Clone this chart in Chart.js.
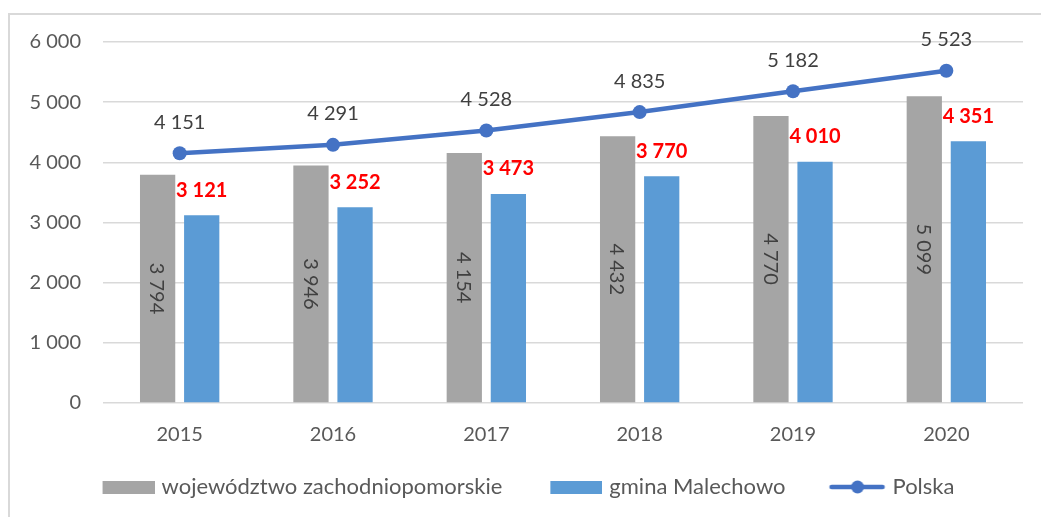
<!DOCTYPE html>
<html>
<head>
<meta charset="utf-8">
<script src="https://cdn.jsdelivr.net/npm/chart.js@4.4.0/dist/chart.umd.min.js"></script>
<style>
  html, body { margin: 0; padding: 0; background: #fff; overflow: hidden; }
  #frame { position: absolute; left: 8px; top: 13px; width: 1100px; height: 600px;
           border-left: 2px solid #d9d9d9; border-top: 2px solid #d9d9d9; }
  #wrap { position: absolute; left: 0; top: 0; width: 1041px; height: 517px; }
</style>
</head>
<body>
<div id="frame"></div>
<div id="wrap"><canvas id="chart" width="1041" height="517"></canvas></div>
<script>
// data
const years = ['2015', '2016', '2017', '2018', '2019', '2020'];
const wojewodztwo = [3794, 3946, 4154, 4432, 4770, 5099];
const gmina = [3121, 3252, 3473, 3770, 4010, 4351];
const polska = [4151, 4291, 4528, 4835, 5182, 5523];
const yTicks = [0, 1000, 2000, 3000, 4000, 5000, 6000];

const GRAY = '#A5A5A5';
const BLUE = '#5B9BD5';
const LINE = '#4472C4';
const TEXT = '#595959';
const FONT = 'Lato';

function fmt(v) {
    return String(v).replace(/\B(?=(\d{3})+(?!\d))/g, ' ');
}

// legend marker images (transparent on the left to space the items out)
const ICON_W = 90;
function rectIcon(color) {
    const c = document.createElement('canvas');
    c.width = ICON_W; c.height = 13;
    const g = c.getContext('2d');
    g.fillStyle = color;
    g.fillRect(ICON_W - 52, 0, 52, 13);
    return c;
}
function lineIcon() {
    const c = document.createElement('canvas');
    c.width = ICON_W; c.height = 16;
    const g = c.getContext('2d');
    g.strokeStyle = LINE;
    g.lineWidth = 4.5;
    g.lineCap = 'round';
    g.beginPath(); g.moveTo(ICON_W - 54, 8); g.lineTo(ICON_W - 3, 8); g.stroke();
    g.fillStyle = LINE;
    g.beginPath(); g.arc(ICON_W - 28, 8, 6.5, 0, Math.PI * 2); g.fill();
    return c;
}

// data labels drawn from the element positions
const labelPlugin = {
    id: 'valueLabels',
    afterDatasetsDraw(chart) {
        const ctx = chart.ctx;
        ctx.save();
        ctx.textAlign = 'center';
        ctx.textBaseline = 'middle';

        // gray bars: rotated label in the middle of the bar
        chart.getDatasetMeta(0).data.forEach((el, i) => {
            ctx.save();
            ctx.translate(el.x, (el.y + el.base) / 2);
            ctx.rotate(Math.PI / 2);
            ctx.fillStyle = '#404040';
            ctx.font = '20px ' + FONT;
            ctx.fillText(fmt(wojewodztwo[i]), 0, 1);
            ctx.restore();
        });

        // blue bars: bold red label above the bar
        chart.getDatasetMeta(1).data.forEach((el, i) => {
            ctx.fillStyle = '#FF0000';
            ctx.font = 'bold 20px ' + FONT;
            ctx.fillText(fmt(gmina[i]), el.x, el.y - 25);
        });

        // line: label above the point
        chart.getDatasetMeta(2).data.forEach((el, i) => {
            ctx.fillStyle = '#404040';
            ctx.font = '20px ' + FONT;
            ctx.fillText(fmt(polska[i]), el.x, el.y - 31);
        });
        ctx.restore();
    }
};

const ctx = document.getElementById('chart').getContext('2d');
new Chart(ctx, {
    type: 'bar',
    data: {
        labels: years,
        datasets: [
            {
                label: 'województwo zachodniopomorskie',
                data: wojewodztwo,
                backgroundColor: GRAY,
                categoryPercentage: 0.575,
                barPercentage: 0.8,
                order: 2
            },
            {
                label: 'gmina Malechowo',
                data: gmina,
                backgroundColor: BLUE,
                categoryPercentage: 0.575,
                barPercentage: 0.8,
                order: 2
            },
            {
                type: 'line',
                label: 'Polska',
                data: polska,
                borderColor: LINE,
                backgroundColor: LINE,
                borderWidth: 4.5,
                pointRadius: 7,
                pointHoverRadius: 7,
                pointBackgroundColor: LINE,
                pointBorderWidth: 0,
                tension: 0,
                order: 1
            }
        ]
    },
    options: {
        responsive: false,
        animation: false,
        layout: { padding: { top: 42, right: 18, bottom: 9, left: 0 } },
        plugins: {
            tooltip: { enabled: false },
            legend: {
                position: 'bottom',
                labels: {
                    usePointStyle: true,
                    pointStyleWidth: ICON_W - 8,
                    padding: 14,
                    color: TEXT,
                    font: { family: FONT, size: 22 },
                    generateLabels(chart) {
                        const icons = [rectIcon(GRAY), rectIcon(BLUE), lineIcon()];
                        return chart.data.datasets.map((ds, i) => ({
                            text: ds.label,
                            pointStyle: icons[i],
                            fillStyle: ds.backgroundColor,
                            strokeStyle: ds.backgroundColor,
                            lineWidth: 0,
                            fontColor: TEXT,
                            datasetIndex: i,
                            hidden: false
                        }));
                    }
                }
            }
        },
        scales: {
            x: {
                grid: { display: false },
                border: { display: false },
                ticks: {
                    color: TEXT,
                    font: { family: FONT, size: 20 },
                    padding: 12
                },
                afterFit(scale) { scale.height = 59; }
            },
            y: {
                min: 0,
                max: 6000,
                afterBuildTicks(scale) {
                    scale.ticks = yTicks.map(v => ({ value: v }));
                },
                grid: { color: '#d9d9d9', lineWidth: 1.5, drawTicks: false },
                border: { display: false },
                ticks: {
                    color: TEXT,
                    font: { family: FONT, size: 20 },
                    padding: 22,
                    callback: v => fmt(v)
                },
                afterFit(scale) { scale.width = 103; }
            }
        }
    },
    plugins: [labelPlugin]
});
</script>
</body>
</html>
